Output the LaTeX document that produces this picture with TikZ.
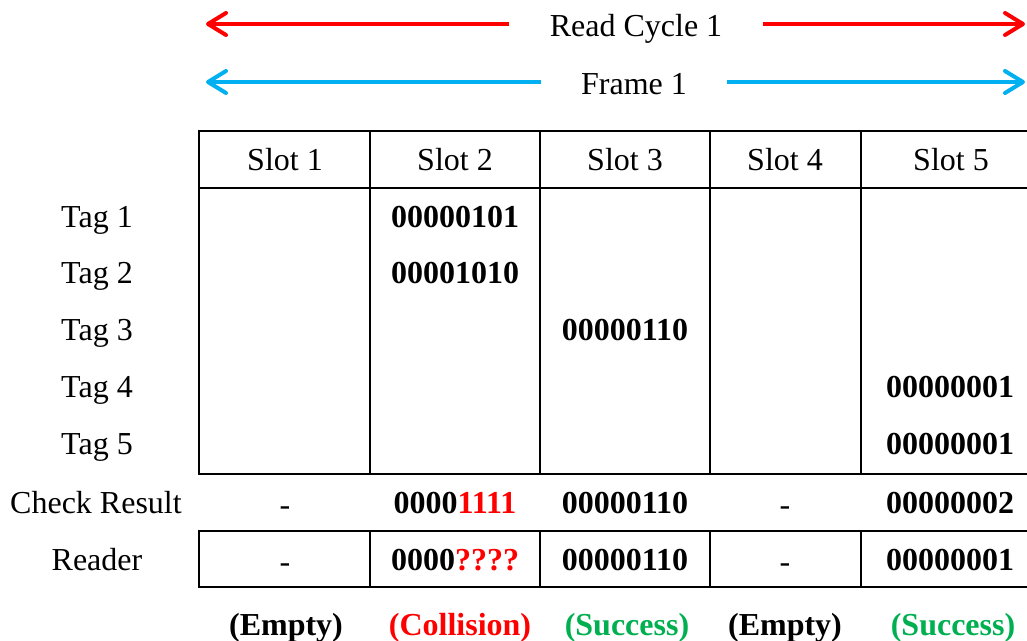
\documentclass[tikz,border=0pt]{standalone}
\usepackage{fontspec}
\setmainfont{Liberation Serif}
\usetikzlibrary{arrows.meta}
\definecolor{cred}{RGB}{255,0,0}
\definecolor{cblue}{RGB}{0,176,240}
\definecolor{cgreen}{RGB}{0,176,80}
\begin{document}
\begin{tikzpicture}[x=0.5pt,y=-0.5pt,
  txt/.style={anchor=base,inner sep=0pt,font=\fontsize{16}{19}\selectfont},
  bold/.style={anchor=base,inner sep=0pt,font=\fontsize{16}{19}\selectfont\bfseries},
  gridline/.style={line width=1.3pt,line cap=rect},
  span/.style={line width=2pt,-{Straight Barb[length=9pt,width=11pt,round]}},
  ]
\useasboundingbox (0,0) rectangle (1027,641);

% top arrows
\coordinate (rcL) at (206,24);
\coordinate (rcR) at (1025,24);
\node[txt,inner xsep=20pt,text=black] (rc) at (636,37) {Read Cycle 1};
\draw[span,cred] (rc.west |- rcL) -- (rcL);
\draw[span,cred] (rc.east |- rcR) -- (rcR);

\coordinate (frL) at (206,82);
\coordinate (frR) at (1025,82);
\node[txt,inner xsep=20pt] (fr) at (634,95) {Frame 1};
\draw[span,cblue] (fr.west |- frL) -- (frL);
\draw[span,cblue] (fr.east |- frR) -- (frR);

% table grid
\draw[gridline] (1030,131) -- (199,131) -- (199,474) -- (1030,474);
\draw[gridline] (199,188) -- (1030,188);
\foreach \x in {370,540,710,861} \draw[gridline] (\x,131) -- (\x,474);
\draw[gridline] (1030,531) -- (199,531) -- (199,587) -- (1030,587);
\foreach \x in {370,540,710,861} \draw[gridline] (\x,531) -- (\x,587);

% header
\node[txt] (s1) at (285,171) {Slot 1};
\node[txt] (s2) at (455,171) {Slot 2};
\node[txt] (s3) at (625,171) {Slot 3};
\node[txt] (s4) at (785,171) {Slot 4};
\node[txt] (s5) at (951,171) {Slot 5};

% row labels
\node[txt] (t1) at (97,228) {Tag 1};
\node[txt] (t2) at (97,284) {Tag 2};
\node[txt] (t3) at (97,341) {Tag 3};
\node[txt] (t4) at (97,397) {Tag 4};
\node[txt] (t5) at (97,454) {Tag 5};
\node[txt] (cr) at (96,513) {Check Result};
\node[txt] (rd) at (97,570) {Reader};

% tag data
\node[bold] (d12) at (455,228) {00000101};
\node[bold] (d22) at (455,284) {00001010};
\node[bold] (d33) at (625,341) {00000110};
\node[bold] (d45) at (950,397) {00000001};
\node[bold] (d55) at (950,454) {00000001};

% check result
\node[txt] (c1) at (285,515) {-};
\node[bold] (c2) at (455,513) {0000\textcolor{cred}{1111}};
\node[bold] (c3) at (625,513) {00000110};
\node[txt] (c4) at (785,515) {-};
\node[bold] (c5) at (950,513) {00000002};

% reader
\node[txt] (r1) at (285,572) {-};
\node[bold] (r2) at (455,570) {0000\textcolor{cred}{????}};
\node[bold] (r3) at (625,570) {00000110};
\node[txt] (r4) at (785,572) {-};
\node[bold] (r5) at (950,570) {00000001};

% outcomes
\node[bold] (o1) at (286,635) {(Empty)};
\node[bold,text=cred] (o2) at (460,635) {(Collision)};
\node[bold,text=cgreen] (o3) at (627,635) {(Success)};
\node[bold] (o4) at (785,635) {(Empty)};
\node[bold,text=cgreen] (o5) at (953,635) {(Success)};
\end{tikzpicture}
\end{document}
